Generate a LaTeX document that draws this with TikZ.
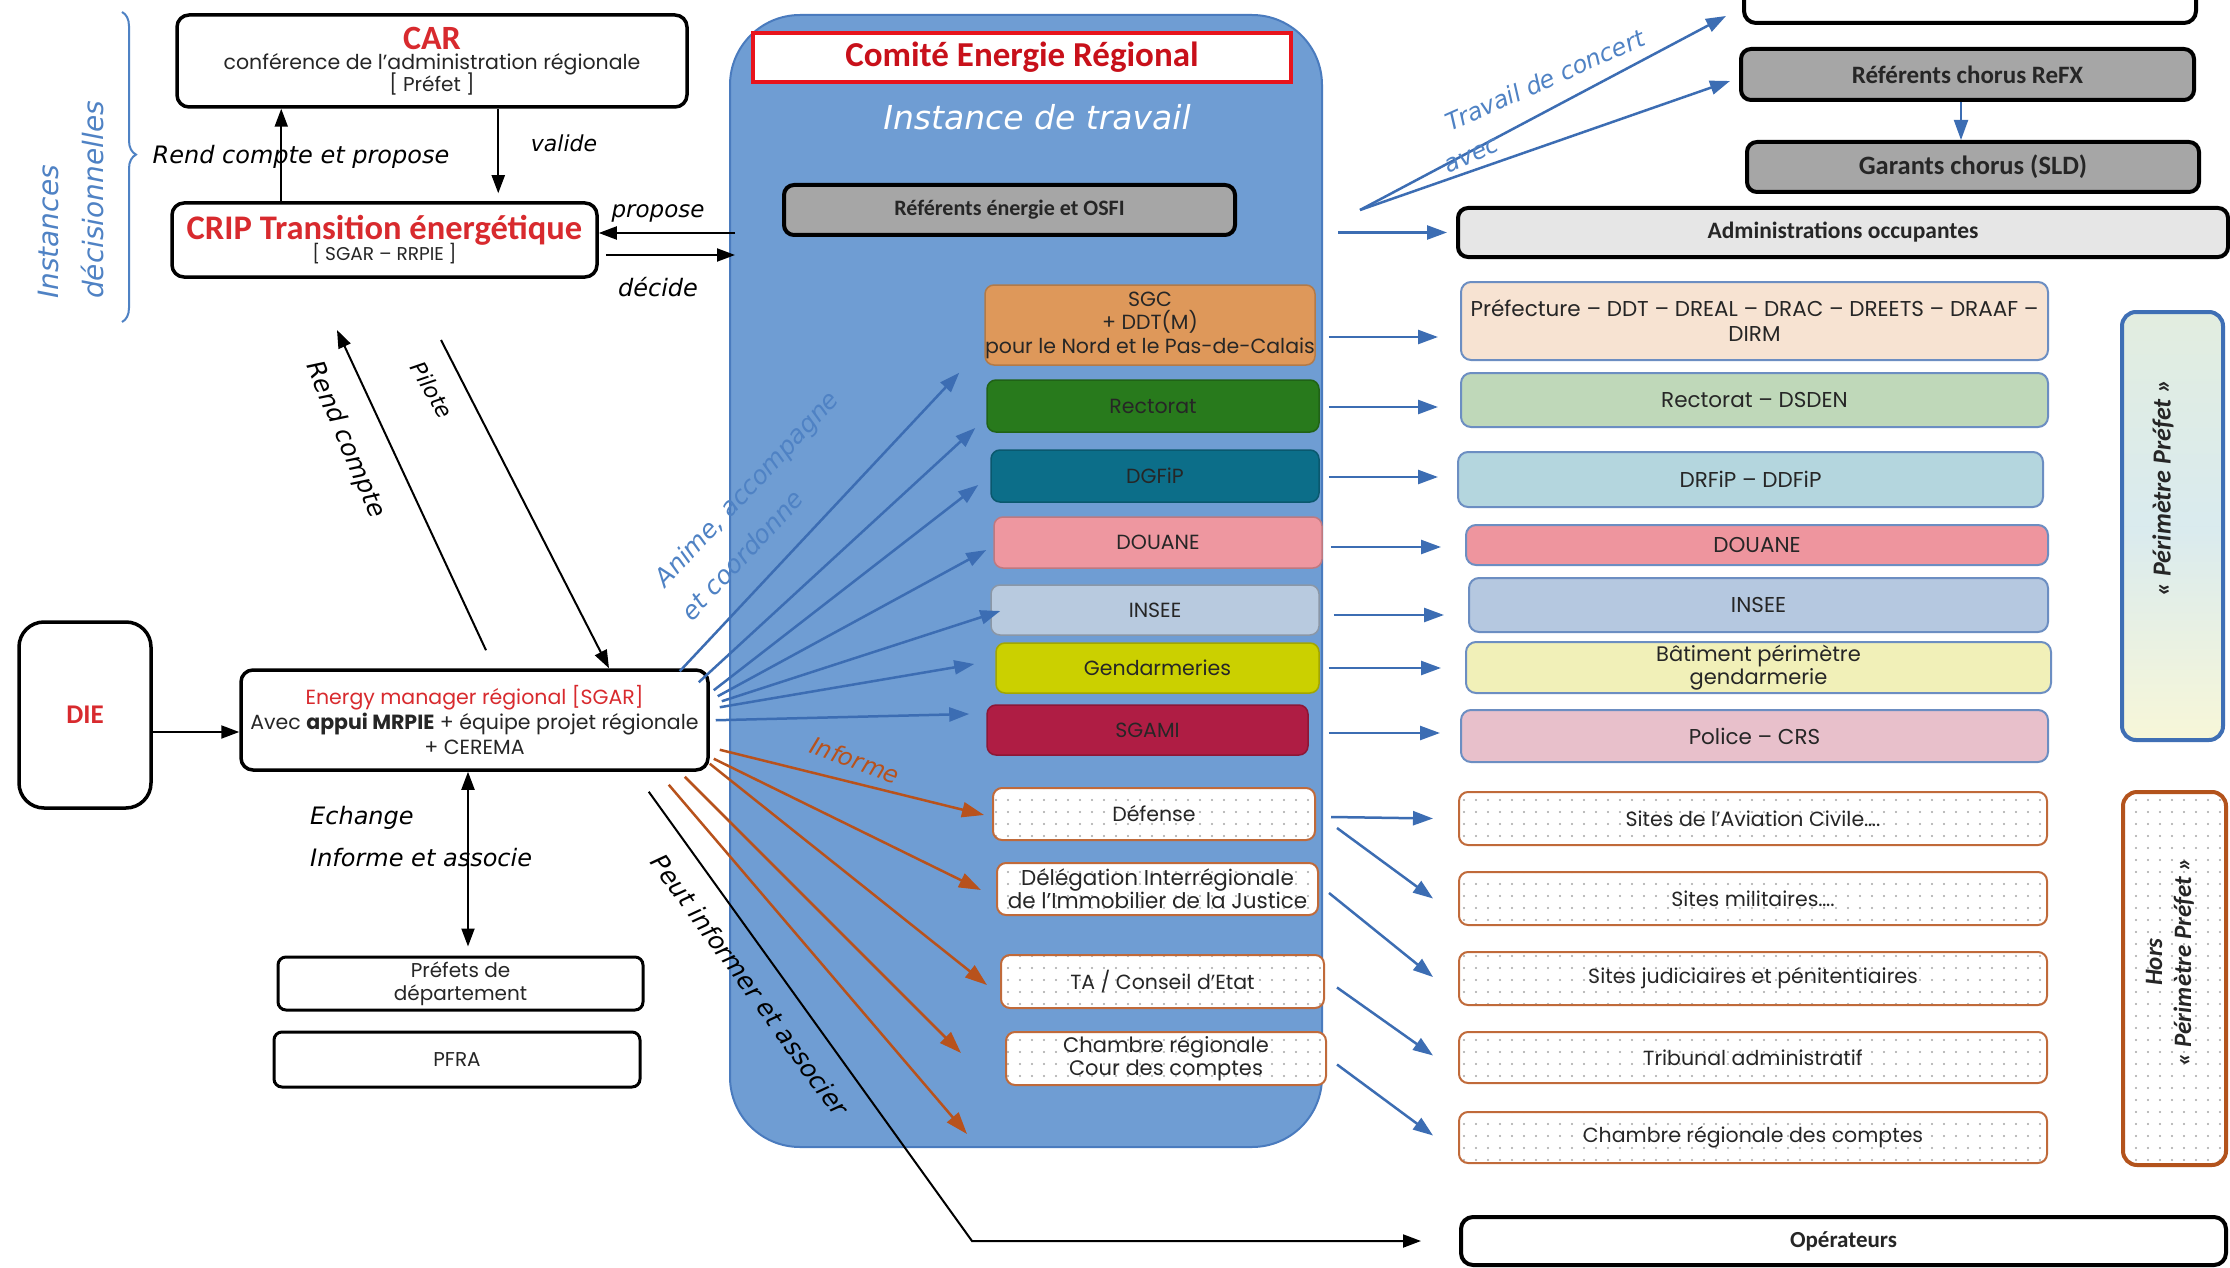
\documentclass[tikz,border=0pt]{standalone}
\usepackage{fontspec}
\setmainfont{Carlito}
\newfontfamily\hand{DejaVu Sans}
\newfontfamily\boxf{Poppins}
\usetikzlibrary{arrows.meta,calc,decorations.pathreplacing,patterns.meta}
\definecolor{cerblue}{HTML}{6F9DD3}
\definecolor{cerbord}{HTML}{4A7BBE}
\definecolor{redtxt}{HTML}{D82A2E}
\definecolor{redcom}{HTML}{C8101A}
\definecolor{redbord}{HTML}{E8141C}
\definecolor{handblue}{HTML}{4F82C4}
\definecolor{arrblue}{HTML}{3C6DB3}
\definecolor{brownarr}{HTML}{B8521C}
\definecolor{brownbord}{HTML}{C06A3A}
\definecolor{grayA}{HTML}{A6A6A6}
\definecolor{grayL}{HTML}{E6E6E6}
\definecolor{cOrange}{HTML}{DE985A}
\definecolor{cGreen}{HTML}{287A1C}
\definecolor{cTeal}{HTML}{0C6E89}
\definecolor{cPink}{HTML}{EE97A0}
\definecolor{cInsee}{HTML}{B8CADF}
\definecolor{cYellow}{HTML}{CBD000}
\definecolor{cCrimson}{HTML}{AF1D44}
\definecolor{rPeach}{HTML}{F7E3D2}
\definecolor{rGreen}{HTML}{BFD8B9}
\definecolor{rCyan}{HTML}{B4D6DE}
\definecolor{rPink}{HTML}{EE959E}
\definecolor{rBlue}{HTML}{B5C8E0}
\definecolor{rYellow}{HTML}{F1F0B8}
\definecolor{rRose}{HTML}{E8C0CB}
\definecolor{rBord}{HTML}{6C8EC2}
\definecolor{perimblue}{HTML}{3F6FB5}
\definecolor{horsbrown}{HTML}{B3531C}
\definecolor{txtdark}{HTML}{262626}
\pgfdeclareverticalshading{perim}{100bp}{color(0bp)=(rRose!45!white); color(25bp)=(rYellow!55!white); color(50bp)=(rCyan!50!white); color(75bp)=(rGreen!45!white); color(100bp)=(white)}
\tikzset{
  bbox/.style={draw=black, line width=3.5pt, rounded corners=12pt, fill=white, align=center, inner sep=0pt, text=txtdark, font=\boxf\fontsize{19}{23}\selectfont},
  graybox/.style={draw=black, line width=4pt, rounded corners=10pt, fill=grayA, align=center, inner sep=0pt, text=txtdark, font=\fontsize{22}{26}\selectfont\bfseries},
  cbox/.style={line width=1.5pt, rounded corners=9pt, align=center, inner sep=0pt, text=txtdark, font=\boxf\fontsize{20.5}{24}\selectfont},
  rbox/.style={draw=rBord, line width=2pt, rounded corners=10pt, align=center, inner sep=0pt, text=txtdark, font=\boxf\fontsize{21.5}{25}\selectfont},
  dbox/.style={draw=brownbord, line width=2pt, rounded corners=9pt, preaction={fill=white}, pattern={Dots[distance=12pt,radius=1.2pt]}, pattern color=gray!70, align=center, inner sep=0pt, text=txtdark, font=\boxf\fontsize{20.5}{24}\selectfont},
  hw/.style={font=\hand\itshape\fontsize{24}{28}\selectfont, inner sep=0pt},
  karrow/.style={draw=black, line width=2pt, -{Triangle[length=18pt,width=13pt]}},
  darrow/.style={draw=black, line width=2pt, {Triangle[length=18pt,width=13pt]}-{Triangle[length=18pt,width=13pt]}},
  barrow/.style={draw=arrblue, line width=2.5pt, -{Triangle[length=20pt,width=14pt]}},
  brarrow/.style={draw=brownarr, line width=2.5pt, -{Triangle[length=22pt,width=15pt]}},
}
\begin{document}
\begin{tikzpicture}[x=1pt,y=-1pt]
\useasboundingbox (0,0) rectangle (2230,1268);
\clip (0,0) rectangle (2230,1268);
\fill[white] (0,0) rectangle (2230,1268);

% ---------- blue container
\node[draw=cerbord, line width=2pt, fill=cerblue, rounded corners=70pt, minimum width=592pt, minimum height=1132pt, inner sep=0pt] (cer) at (1026,581) {};

% ---------- left column
\node[bbox, minimum width=510pt, minimum height=92pt] (car) at (432,61)
  {{\rmfamily\fontsize{34}{30}\selectfont\bfseries\color{redtxt}CAR}\\[-3pt]{\fontsize{20.5}{22}\selectfont conférence de l’administration régionale}\\[-3pt]{\fontsize{20}{21}\selectfont [ Préfet ]}};
\node[bbox, minimum width=425pt, minimum height=74pt] (crip) at (384.5,240)
  {{\rmfamily\fontsize{34.5}{34}\selectfont\bfseries\color{redtxt}CRIP Transition énergétique}\\[-3pt]{\fontsize{18.5}{19}\selectfont [ SGAR – RRPIE ]}};
\node[bbox, rounded corners=25pt, minimum width=132pt, minimum height=186pt, font=\fontsize{27}{30}\selectfont\bfseries, text=redtxt] (die) at (85,715) {DIE};
\node[bbox, minimum width=467pt, minimum height=100pt, font=\boxf\fontsize{20.5}{25}\selectfont] (em) at (474.5,720)
  {{\color{redtxt}Energy manager régional [SGAR]}\\Avec {\bfseries appui MRPIE} + équipe projet régionale\\+ CEREMA};
\node[bbox, line width=3pt, rounded corners=8pt, minimum width=365pt, minimum height=53pt, font=\boxf\fontsize{20}{23}\selectfont] (prefd) at (460.5,983.5) {Préfets de\\département};
\node[bbox, line width=3pt, rounded corners=8pt, minimum width=366pt, minimum height=55pt, font=\boxf\fontsize{20}{23}\selectfont] (pfra) at (457,1059.5) {PFRA};

% brace
\draw[handblue, line width=2pt, decorate, decoration={brace, amplitude=14pt, aspect=0.46}] (122,12) -- (122,322);
\node[hw, rotate=90, anchor=west, text=handblue, font=\hand\itshape\fontsize{28}{32}\selectfont] (inst1) at (48,299) {Instances};
\node[hw, rotate=90, anchor=west, text=handblue, font=\hand\itshape\fontsize{28}{32}\selectfont] (inst2) at (92,299) {décisionnelles};

% ---------- inside container
\node[draw=redbord, line width=4pt, fill=white, minimum width=538pt, minimum height=49pt, inner sep=0pt, font=\fontsize{35}{38}\selectfont\bfseries, text=redcom] (comite) at (1022,57.5) {Comité Energie Régional};
\node[hw, text=white, font=\hand\itshape\fontsize{33}{35}\selectfont] (instance) at (1037,117) {Instance de travail};
\node[graybox, minimum width=451pt, minimum height=50pt] (refen) at (1009.5,210) {Référents énergie et OSFI};

\node[cbox, fill=cOrange, draw=cOrange!80!black, minimum width=330pt, minimum height=80pt, font=\boxf\fontsize{20.5}{23.5}\selectfont] (sgc) at (1150,325) {SGC\\+ DDT(M)\\pour le Nord et le Pas-de-Calais};
\node[cbox, fill=cGreen, draw=cGreen!80!black, minimum width=332pt, minimum height=52pt] (rect) at (1153,406) {Rectorat};
\node[cbox, fill=cTeal, draw=cTeal!80!black, minimum width=328pt, minimum height=52pt] (dgfip) at (1155,476) {DGFiP};
\node[cbox, fill=cPink, draw=cPink!80!black, minimum width=328pt, minimum height=51pt] (dou) at (1158,542.5) {DOUANE};
\node[cbox, fill=cInsee, draw=cInsee!75!black, minimum width=328pt, minimum height=50pt] (insee) at (1155,610) {INSEE};
\node[cbox, fill=cYellow, draw=cYellow!80!black, minimum width=323pt, minimum height=50pt] (gend) at (1157.5,668) {Gendarmeries};
\node[cbox, fill=cCrimson, draw=cCrimson!80!black, minimum width=321pt, minimum height=50pt] (sgami) at (1147.5,730) {SGAMI};

\node[dbox, minimum width=322pt, minimum height=52pt] (def) at (1154,814) {Défense};
\node[dbox, minimum width=321pt, minimum height=52pt, font=\boxf\fontsize{21.5}{23}\selectfont] (del) at (1157.5,889) {Délégation Interrégionale\\de l’Immobilier de la Justice};
\node[dbox, minimum width=323pt, minimum height=53pt] (ta) at (1162.5,981.5) {TA / Conseil d’Etat};
\node[dbox, minimum width=320pt, minimum height=53pt, font=\boxf\fontsize{21}{23}\selectfont] (ch) at (1166,1058.5) {Chambre régionale\\Cour des comptes};

% ---------- right column
\node[bbox, line width=4pt, minimum width=452pt, minimum height=63pt] (topbox) at (1970,-8.5) {};
\node[graybox, minimum width=453pt, minimum height=51pt, font=\fontsize{25}{28}\selectfont\bfseries] (refx) at (1967.5,74.5) {Référents chorus ReFX};
\node[graybox, minimum width=452pt, minimum height=50pt, font=\fontsize{26.5}{28}\selectfont\bfseries] (garants) at (1973,167) {Garants chorus (SLD)};
\node[graybox, fill=grayL, minimum width=770pt, minimum height=49pt, font=\fontsize{23.5}{27}\selectfont\bfseries] (admin) at (1843,232.5) {Administrations occupantes};

\node[rbox, fill=rPeach, minimum width=587pt, minimum height=78pt] (pref) at (1754.5,321) {Préfecture – DDT – DREAL – DRAC – DREETS – DRAAF –\\DIRM};
\node[rbox, fill=rGreen, minimum width=587pt, minimum height=54pt] (rdsden) at (1754.5,400) {Rectorat – DSDEN};
\node[rbox, fill=rCyan, minimum width=585pt, minimum height=55pt] (drfip) at (1750.5,479.5) {DRFiP – DDFiP};
\node[rbox, fill=rPink, minimum width=582pt, minimum height=40pt] (dou2) at (1757,545) {DOUANE};
\node[rbox, fill=rBlue, minimum width=579pt, minimum height=54pt] (insee2) at (1758.5,605) {INSEE};
\node[rbox, fill=rYellow, minimum width=585pt, minimum height=51pt, font=\boxf\fontsize{21}{23}\selectfont] (bat) at (1758.5,667.5) {Bâtiment périmètre\\gendarmerie};
\node[rbox, fill=rRose, minimum width=587pt, minimum height=52pt] (police) at (1754.5,736) {Police – CRS};

\node[draw=perimblue, line width=4pt, rounded corners=14pt, shading=perim, minimum width=101pt, minimum height=428pt, inner sep=0pt] (perim) at (2172.5,526) {};
\node[rotate=90, inner sep=0pt, text=txtdark, font=\fontsize{26}{30}\selectfont\bfseries\itshape] (perimtxt) at (2163,488) {« Périmètre Préfet »};

\node[dbox, minimum width=588pt, minimum height=53pt] (avi) at (1753,818.5) {Sites de l’Aviation Civile….};
\node[dbox, minimum width=588pt, minimum height=53pt] (mil) at (1753,898.5) {Sites militaires….};
\node[dbox, minimum width=588pt, minimum height=53pt] (jud) at (1753,978.5) {Sites judiciaires et pénitentiaires};
\node[dbox, minimum width=588pt, minimum height=51pt] (trib) at (1753,1057.5) {Tribunal administratif};
\node[dbox, minimum width=588pt, minimum height=51pt] (crc) at (1753,1137.5) {Chambre régionale des comptes};

\node[dbox, draw=horsbrown, line width=4pt, rounded corners=14pt, minimum width=103pt, minimum height=373pt] (hors) at (2174.5,978.5) {};
\node[rotate=90, align=center, inner sep=0pt, text=txtdark, font=\fontsize{25}{29}\selectfont\bfseries\itshape] (horstxt) at (2170,962) {Hors\\« Périmètre Préfet »};

\node[bbox, line width=4pt, minimum width=765pt, minimum height=48pt, font=\fontsize{23}{27}\selectfont\bfseries] (op) at (1843.5,1241) {Opérateurs};

% ---------- black connectors (left)
\draw[karrow] ($(crip.north west)+(111,0)$) -- ($(car.south west)+(106,0)$);
\draw[karrow] ($(car.south west)+(323,0)$) -- ($(crip.north west)+(328,-8)$);
\draw[karrow] ($(cer.west |- crip.east)+(6,-7)$) -- ($(crip.east)+(0,-7)$);
\draw[karrow] ($(crip.east)+(7,15)$) -- ($(cer.west |- crip.east)+(6,15)$);
\draw[karrow] ($(die.east)+(0,17)$) -- ($(em.west |- die.east)+(0,17)$);
\coordinate (rcE) at (337,330);
\coordinate (pilS) at (441,340);
\draw[karrow] ($(em.north)+(11.5,-18)$) -- (rcE);
\draw[karrow] (pilS) -- ($(em.north)+(134.5,0)$);
\draw[darrow] ($(em.south)+(-6.5,0)$) -- ($(prefd.north)+(7.5,-9)$);
\coordinate (peutS) at ($(em.south east)+(-61,20)$);
\coordinate (peutC) at (972,1241);
\draw[karrow] (peutS) -- (peutC) -- ($(op.west)+(-38,0)$);

% ---------- blue fan from energy manager
\draw[barrow] ($(em.north east)+(-30,3)$) -- ($(sgc.south west)+(-25,7)$);
\draw[barrow] ($(em.north east)+(-11,14)$) -- ($(rect.west)+(-11,22)$);
\draw[barrow] ($(em.north east)+(4,22)$) -- ($(dgfip.west)+(-12,9)$);
\draw[barrow] ($(em.north east)+(8,28)$) -- ($(dou.west)+(-7,7.5)$);
\draw[barrow] ($(em.north east)+(12,33)$) -- ($(insee.west)+(10,1)$);
\draw[barrow] ($(em.north east)+(10,39)$) -- ($(gend.west)+(-21,-4)$);
\draw[barrow] ($(em.north east)+(6,52)$) -- ($(sgami.west)+(-17,-16)$);

% ---------- brown fan
\coordinate (br5) at ($(ch.south west)+(-38,48)$);
\draw[brarrow] ($(em.south east)+(10,-22)$) -- ($(def.west)+(-8,1)$);
\draw[brarrow] ($(em.south east)+(4,-13)$) -- ($(del.west)+(-15,1)$);
\draw[brarrow] ($(em.south east)+(0,-8)$) -- ($(ta.west)+(-13,3.5)$);
\draw[brarrow] ($(em.south east)+(-25,5)$) -- ($(ch.west)+(-44,-5.5)$);
\draw[brarrow] ($(em.south east)+(-41,13)$) -- (br5);

% ---------- blue arrows to the right column
\draw[barrow] ($(sgc.east)+(13,12)$) -- ($(pref.west)+(-22,16)$);
\draw[barrow] ($(rect.east)+(9,1)$) -- ($(rdsden.west)+(-22,7)$);
\draw[barrow] ($(dgfip.east)+(9,1)$) -- ($(drfip.west)+(-19,-2.5)$);
\draw[barrow] ($(dou.east)+(8,4.5)$) -- ($(dou2.west)+(-24,2)$);
\draw[barrow] ($(insee.east)+(14,5)$) -- ($(insee2.west)+(-24,10)$);
\draw[barrow] ($(gend.east)+(9,0)$) -- ($(bat.west)+(-24,0.5)$);
\draw[barrow] ($(sgami.east)+(20,3)$) -- ($(police.west)+(-20,-3)$);

\draw[barrow] ($(def.east)+(15,3)$) -- ($(avi.west)+(-25,0)$);
\draw[barrow] ($(def.east)+(21,14)$) -- ($(mil.west)+(-25,0)$);
\draw[barrow] ($(del.east)+(10,4)$) -- ($(jud.west)+(-25,-1.5)$);
\draw[barrow] ($(ta.east)+(12,6)$) -- ($(trib.west)+(-25,-2)$);
\draw[barrow] ($(ch.east)+(10,6)$) -- ($(crc.west)+(-25,-2)$);

\draw[barrow] ($(admin.west)+(-118,0)$) -- ($(admin.west)+(-9,0)$);
\coordinate (tcS) at (1360,210);
\draw[barrow] (tcS) -- ($(topbox.south west)+(-16,-9)$);
\draw[barrow] (tcS) -- ($(refx.west)+(-9,6.5)$);
\draw[barrow, line width=2pt] ($(refx.south)+(-6.5,0)$) -- ($(garants.north)+(-12,0)$);

% ---------- handwritten labels
\node[hw] (lrcp) at (301,157) {Rend compte et propose};
\node[hw, font=\hand\itshape\fontsize{22}{26}\selectfont] (lval) at (564,143) {valide};
\node[hw, font=\hand\itshape\fontsize{23}{26}\selectfont] (lprop) at (658,213) {propose};
\node[hw] (ldec) at (658,287) {décide};
\node[hw, font=\hand\itshape\fontsize{25}{28}\selectfont, rotate=-67] (lrc) at (345,440) {Rend compte};
\node[hw, font=\hand\itshape\fontsize{22}{26}\selectfont, rotate=-60] (lpil) at (432,390) {Pilote};
\node[hw, text=handblue, font=\hand\itshape\fontsize{25}{28}\selectfont, rotate=47] (lani1) at (748,490) {Anime, accompagne};
\node[hw, text=handblue, font=\hand\itshape\fontsize{25}{28}\selectfont, rotate=47] (lani2) at (742,555) {et coordonne};
\node[hw, text=brownarr, rotate=-20] (linf) at (855,760) {Informe};
\node[hw, anchor=west] (lech) at (310,818) {Echange};
\node[hw, anchor=west] (liea) at (310,858) {Informe et associe};
\node[hw, font=\hand\itshape\fontsize{25}{28}\selectfont, rotate=-54] (lpeut) at (750,985) {Peut informer et associer};
\node[hw, text=handblue, font=\hand\itshape\fontsize{24}{27}\selectfont, rotate=24] (ltc) at (1545,80) {Travail de concert};
\node[hw, text=handblue, font=\hand\itshape\fontsize{24}{27}\selectfont, rotate=24] (lavec) at (1472,156) {avec};
\end{tikzpicture}
\end{document}
